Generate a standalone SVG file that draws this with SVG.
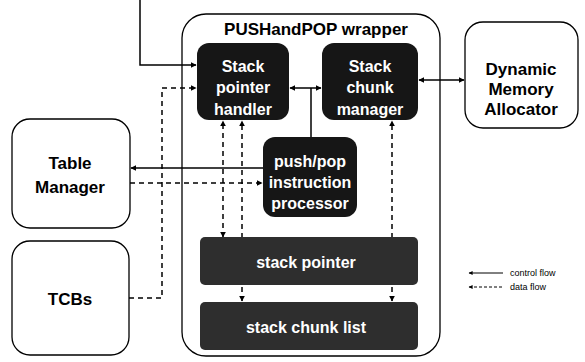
<svg xmlns="http://www.w3.org/2000/svg" width="585" height="362" viewBox="0 0 585 362">
  <defs>
    <marker id="ah" viewBox="0 0 10 10" refX="9" refY="5" markerWidth="6" markerHeight="6" orient="auto-start-reverse" markerUnits="userSpaceOnUse">
      <path d="M0,0 L10,5 L0,10 z" fill="#000"/>
    </marker>
    <marker id="ahs" viewBox="0 0 10 10" refX="9" refY="5" markerWidth="5" markerHeight="4" orient="auto-start-reverse" markerUnits="userSpaceOnUse">
      <path d="M0,0 L10,5 L0,10 z" fill="#000"/>
    </marker>
  </defs>
  <style>
    .wbox { fill: #fff; stroke: #000; stroke-width: 1.3; }
    .dbox { fill: #161616; stroke: none; }
    .bar { fill: #2e2e2e; stroke: none; }
    .lbl { font-family: "Liberation Sans", Arial, sans-serif; font-weight: bold; font-size: 17px; text-anchor: middle; fill: #000; }
    .wlbl { font-family: "Liberation Sans", Arial, sans-serif; font-weight: bold; font-size: 16px; text-anchor: middle; fill: #fff; }
    .solid { fill: none; stroke: #000; stroke-width: 1.5; }
    .dash { fill: none; stroke: #000; stroke-width: 1.5; stroke-dasharray: 5 4; }
    .leg { font-family: "Liberation Sans", Arial, sans-serif; font-size: 9px; fill: #000; }
  </style>
  <rect width="585" height="362" fill="#fff"/>

  <!-- wrapper container -->
  <g id="wrapper">
    <rect class="wbox" x="182" y="14" width="258" height="342" rx="24"/>
    <text class="lbl" x="316" y="35" font-size="18.5">PUSHandPOP wrapper</text>
  </g>

  <!-- connectors -->
  <g id="connectors">
    <!-- incoming control line from top -->
    <path class="solid" d="M140,0 V65 H196" marker-end="url(#ah)"/>
    <!-- TCBs data into handler -->
    <path class="dash" d="M129,298 H162 V88 H196" marker-end="url(#ah)"/>
    <!-- handler <-> chunk manager -->
    <path class="solid" d="M290,88 H321" marker-start="url(#ah)" marker-end="url(#ah)"/>
    <path class="solid" d="M311,88 V137"/>
    <!-- chunk manager <-> allocator -->
    <path class="solid" d="M419,80 H464" marker-start="url(#ah)" marker-end="url(#ah)"/>
    <!-- processor -> table manager -->
    <path class="solid" d="M263,168 H131" marker-end="url(#ah)"/>
    <!-- table manager -> processor (data) -->
    <path class="dash" d="M130,183 H262" marker-end="url(#ah)"/>
    <!-- handler <-> stack pointer -->
    <path class="dash" d="M223,237 V121" marker-start="url(#ah)" marker-end="url(#ah)"/>
    <!-- handler <-> stack chunk list -->
    <path class="dash" d="M242,301 V121" marker-start="url(#ah)" marker-end="url(#ah)"/>
    <!-- chunk manager <-> stack chunk list -->
    <path class="dash" d="M392,301 V121" marker-start="url(#ah)" marker-end="url(#ah)"/>
  </g>

  <g id="stack_pointer_handler">
    <rect class="dbox" x="197" y="43" width="92" height="77" rx="12"/>
    <text class="wlbl" x="243" y="72">Stack</text>
    <text class="wlbl" x="243" y="93">pointer</text>
    <text class="wlbl" x="243" y="115">handler</text>
  </g>

  <g id="stack_chunk_manager">
    <rect class="dbox" x="322" y="43" width="96" height="77" rx="12"/>
    <text class="wlbl" x="370" y="72">Stack</text>
    <text class="wlbl" x="370" y="93">chunk</text>
    <text class="wlbl" x="370" y="115">manager</text>
  </g>

  <g id="push_pop_processor">
    <rect class="dbox" x="263" y="137" width="94" height="80" rx="12"/>
    <text class="wlbl" x="310" y="167">push/pop</text>
    <text class="wlbl" x="310" y="188">instruction</text>
    <text class="wlbl" x="310" y="209">processor</text>
  </g>

  <g id="stack_pointer">
    <rect class="bar" x="200" y="237" width="218" height="48" rx="5"/>
    <text class="wlbl" x="306" y="268">stack pointer</text>
  </g>

  <g id="stack_chunk_list">
    <rect class="bar" x="200" y="302" width="218" height="48" rx="5"/>
    <text class="wlbl" x="306" y="333">stack chunk list</text>
  </g>

  <g id="dynamic_memory_allocator">
    <rect class="wbox" x="465" y="22" width="113" height="106" rx="18"/>
    <text class="lbl" x="521" y="75">Dynamic</text>
    <text class="lbl" x="521" y="95">Memory</text>
    <text class="lbl" x="521" y="115">Allocator</text>
  </g>

  <g id="table_manager">
    <rect class="wbox" x="12" y="119" width="118" height="109" rx="18"/>
    <text class="lbl" x="70" y="169">Table</text>
    <text class="lbl" x="70" y="193">Manager</text>
  </g>

  <g id="tcbs">
    <rect class="wbox" x="12" y="241" width="117" height="114" rx="18"/>
    <text class="lbl" x="70" y="305">TCBs</text>
  </g>

  <g id="legend">
    <path d="M469,273 H503" stroke="#000" stroke-width="1" fill="none" marker-start="url(#ahs)"/>
    <text class="leg" x="510" y="276">control flow</text>
    <path d="M469,287 H503" stroke="#000" stroke-width="1" stroke-dasharray="3 2" fill="none" marker-start="url(#ahs)"/>
    <text class="leg" x="510" y="290">data flow</text>
  </g>
</svg>
